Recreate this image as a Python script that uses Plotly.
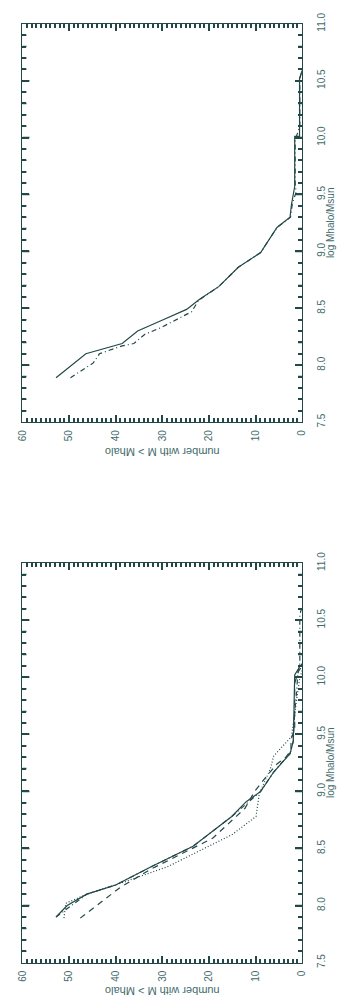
import numpy as np
import plotly.graph_objects as go

# ---------------- data (N = number with M > Mhalo, M = log Mhalo/Msun) -------------
top_solid_n = [52.8, 46.4, 38.6, 35.3, 30.3, 24.8, 22.0, 17.9, 13.7, 8.9, 5.4, 2.6, 2.3, 1.6, 1.6, 0.56, 0.56, 0.0]
top_solid_m = [7.89, 8.10, 8.19, 8.30, 8.39, 8.49, 8.58, 8.69, 8.86, 8.99, 9.21, 9.30, 9.41, 9.57, 10.01, 10.01, 10.52, 10.59]

top_dashdot_n = [49.7, 44.8, 43.5, 38.6, 36.1, 33.8, 30.3, 23.7, 22.2, 17.9, 13.7, 8.9, 5.4, 2.5, 2.1, 1.3, 1.5, 1.5, 0.9, 0.5, 0.5, 0.0]
top_dashdot_m = [7.89, 8.02, 8.10, 8.17, 8.19, 8.27, 8.33, 8.47, 8.57, 8.69, 8.86, 8.99, 9.21, 9.30, 9.42, 9.52, 9.60, 9.98, 10.05, 10.10, 10.52, 10.59]

bot_solid_n = [52.8, 50.4, 46.2, 40.0, 37.2, 32.4, 23.4, 15.1, 12.0, 8.9, 6.1, 4.0, 2.6, 1.9, 1.6, 0.56, 0.0]
bot_solid_m = [7.90, 8.00, 8.10, 8.18, 8.24, 8.34, 8.52, 8.78, 8.91, 9.00, 9.17, 9.27, 9.33, 9.44, 10.02, 10.09, 10.12]

bot_dashed_n = [47.6, 41.7, 39.0, 32.4, 26.0, 19.2, 12.3, 10.2, 7.5, 5.4, 3.5, 2.4, 2.4, 1.6, 1.6, 0.8, 0.0]
bot_dashed_m = [7.89, 8.08, 8.16, 8.32, 8.45, 8.59, 8.85, 9.00, 9.14, 9.24, 9.30, 9.36, 9.45, 9.55, 9.95, 10.05, 10.10]

bot_dotted_n = [51.1, 50.7, 46.2, 40.0, 37.9, 28.9, 20.6, 15.1, 9.9, 9.2, 6.8, 6.1, 2.3, 1.7, 1.2, 0.6, 0.0]
bot_dotted_m = [7.89, 8.02, 8.10, 8.18, 8.21, 8.34, 8.51, 8.62, 8.78, 8.98, 9.20, 9.31, 9.48, 9.67, 9.80, 9.97, 10.06]

bot_dashdot_n = [52.8, 46.2, 40.0, 32.4, 23.4, 15.1, 8.9, 6.1, 4.0, 2.6, 1.9, 1.6, 1.2, 0.9, 0.5, 0.5, 0.0]
bot_dashdot_m = [7.90, 8.10, 8.18, 8.34, 8.52, 8.78, 9.00, 9.17, 9.27, 9.33, 9.44, 9.70, 9.87, 10.05, 10.12, 10.55, 10.62]

n_range = [60, 0]
n_major, n_minor = 10, 1
m_range = [7.5, 11.0]
m_major, m_minor = 0.5, 0.1
x_title = "log Mhalo/Msun"
y_title = "number with M > Mhalo"

# ---------------- styling ----------------
W, H = 342, 1008
INK = "#234848"
TXT = "#3f6b6b"
FONT = "Liberation Sans, Arial, sans-serif"
FS = 10
LW = 1.2
TW = 1.5
MAJ_LEN, MIN_LEN = 7, 4

DASH = "6px,5px"
DOT = "1px,2px"
DASHDOT = "5px,3px,1px,3px"

xl, xr = 17, 306
panels = [(13, 417.7), (561, 967)]  # (top px, bottom px)

fig = go.Figure()

def add(n, m, dash, xa, ya):
    fig.add_trace(go.Scatter(
        x=n, y=m, mode="lines",
        line=dict(color=INK, width=LW, dash=dash),
        xaxis=xa, yaxis=ya, showlegend=False, hoverinfo="skip"))

add(top_dashdot_n, top_dashdot_m, DASHDOT, "x", "y")
add(top_solid_n, top_solid_m, "solid", "x", "y")

add(bot_dashdot_n, bot_dashdot_m, DASHDOT, "x2", "y2")
add(bot_dotted_n, bot_dotted_m, DOT, "x2", "y2")
add(bot_dashed_n, bot_dashed_m, DASH, "x2", "y2")
add(bot_solid_n, bot_solid_m, "solid", "x2", "y2")

# empty traces that register the extra tick-only top axes
for xa, ya in (("x3", "y3"), ("x4", "y4")):
    fig.add_trace(go.Scatter(x=[None], y=[None], mode="lines", xaxis=xa, yaxis=ya,
                             showlegend=False, hoverinfo="skip"))

def base():
    return dict(ticks="inside", ticklen=MAJ_LEN, tickwidth=TW, tickcolor=INK,
                showgrid=False, zeroline=False)

def xaxis_cfg(anchor, side="bottom", labels=True, line=True):
    d = dict(
        domain=[xl / W, xr / W], range=n_range, anchor=anchor, side=side,
        tickmode="linear", tick0=0, dtick=n_major,
        minor=dict(tick0=0, dtick=n_minor, ticks="inside", ticklen=MIN_LEN, tickwidth=TW,
                   tickcolor=INK, showgrid=False),
        showline=line, linecolor=INK, linewidth=1, mirror="allticks" if line else False,
        showticklabels=labels, **base())
    if labels:
        d.update(tickangle=-90, ticklabelstandoff=3,
                 tickfont=dict(family=FONT, size=FS, color=TXT))
    return d

def yaxis_cfg(anchor, top_px, bot_px, side="right", labels=True, line=True):
    d = dict(
        domain=[1 - bot_px / H, 1 - top_px / H], range=m_range, anchor=anchor, side=side,
        tickmode="linear", tick0=7.5, dtick=m_major,
        minor=dict(dtick=m_minor, ticks="inside", ticklen=MIN_LEN, tickwidth=TW,
                   tickcolor=INK, showgrid=False),
        showline=line, linecolor=INK, linewidth=1, mirror="allticks" if line else False,
        showticklabels=labels, **base())
    if labels:
        d.update(tickangle=-90, ticklabelstandoff=10, tickformat=".1f",
                 tickfont=dict(family=FONT, size=FS, color=TXT))
    return d

fig.update_layout(
    width=W, height=H, margin=dict(l=0, r=0, t=0, b=0),
    paper_bgcolor="white", plot_bgcolor="rgba(0,0,0,0)",
    xaxis=xaxis_cfg("y"), yaxis=yaxis_cfg("x", *panels[0]),
    xaxis2=xaxis_cfg("y2"), yaxis2=yaxis_cfg("x2", *panels[1]),
    xaxis3=xaxis_cfg("y3", side="top", labels=False, line=False),
    yaxis3=yaxis_cfg("x3", *panels[0], side="left", labels=False, line=False),
    xaxis4=xaxis_cfg("y4", side="top", labels=False, line=False),
    yaxis4=yaxis_cfg("x4", *panels[1], side="left", labels=False, line=False),
)

# side tick marks along the log-mass axis (left and right edges of each box),
# placed in data coordinates of that axis with pixel lengths
m_tick_pos = np.round(np.arange(m_range[0], m_range[1] + 1e-9, m_minor), 2)
shapes = []
for xa, ya in (("x", "y"), ("x2", "y2")):
    for m in m_tick_pos:
        if m <= m_range[0] or m >= m_range[1]:
            continue
        is_major = abs(m / m_major - round(m / m_major)) < 1e-6
        L = MAJ_LEN if is_major else MIN_LEN
        for anchor_n, x0, x1 in ((n_range[0], 0, L), (n_range[1], -L, 0)):
            shapes.append(dict(
                type="line", xref=xa, yref=ya, xsizemode="pixel", xanchor=anchor_n,
                x0=x0, x1=x1, y0=float(m), y1=float(m),
                line=dict(color=INK, width=TW), layer="above"))
fig.update_layout(shapes=shapes)

annots = []
for (tp, bp), ytitle_px in zip(panels, [448, 996]):
    annots.append(dict(
        text=y_title, xref="paper", yref="paper",
        x=(xl + xr) / 2 / W, y=1 - ytitle_px / H,
        xanchor="center", yanchor="middle", showarrow=False, textangle=180,
        font=dict(family=FONT, size=11, color=TXT)))
    annots.append(dict(
        text=x_title, xref="paper", yref="paper",
        x=336 / W, y=1 - (tp + bp) / 2 / H,
        xanchor="center", yanchor="middle", showarrow=False, textangle=-90,
        font=dict(family=FONT, size=FS, color=TXT)))
fig.update_layout(annotations=annots)

fig.write_html("out.html")
